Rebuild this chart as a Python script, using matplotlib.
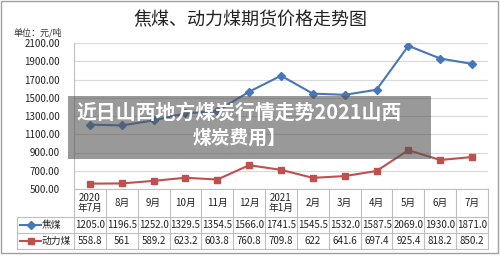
import matplotlib
matplotlib.use("Agg")
import matplotlib.pyplot as plt
import matplotlib.transforms as mtransforms
from matplotlib.lines import Line2D
from matplotlib.patches import Rectangle

plt.rcParams['font.family'] = ['Noto Sans CJK SC', 'DejaVu Sans']

categories = ["2020\n年7月", "8月", "9月", "10月", "11月", "12月", "2021\n年1月",
              "2月", "3月", "4月", "5月", "6月", "7月"]
coking = [1205.0, 1196.5, 1252.0, 1329.5, 1354.5, 1566.0, 1741.5, 1545.5,
          1532.0, 1587.5, 2069.0, 1930.0, 1871.0]
thermal = [558.8, 561, 589.2, 623.2, 603.8, 760.8, 709.8, 622, 641.6,
           697.4, 925.4, 818.2, 850.2]
coking_labels = ["1205.0", "1196.5", "1252.0", "1329.5", "1354.5", "1566.0", "1741.5",
                 "1545.5", "1532.0", "1587.5", "2069.0", "1930.0", "1871.0"]
thermal_labels = ["558.8", "561", "589.2", "623.2", "603.8", "760.8", "709.8",
                  "622", "641.6", "697.4", "925.4", "818.2", "850.2"]
series_names = ["焦煤", "动力煤"]
yticks = [500, 700, 900, 1100, 1300, 1500, 1700, 1900, 2100]

BLUE = '#4677B8'
RED = '#C0504D'
GRID = '#D9D9D9'
TBL = '#BFBFBF'

W, H = 500, 256
fig = plt.figure(figsize=(5.0, 2.56), dpi=100)
L, R, T, B = 74, 488, 43, 189
ax = fig.add_axes([L / W, 1 - B / H, (R - L) / W, (B - T) / H])

x = list(range(len(categories)))
ax.plot(x, coking, color=BLUE, lw=1.5, marker='D', ms=4.5, zorder=3)
ax.plot(x, thermal, color=RED, lw=1.5, marker='s', ms=5, zorder=3)

ax.set_xlim(-0.5, len(categories) - 0.5)
ax.set_ylim(500, 2100)
ax.set_yticks(yticks)
ax.set_yticklabels([f"{v:.2f}" for v in yticks], fontsize=7, color='#222222')
ax.tick_params(axis='y', length=0, pad=10)
ax.set_xticks([])
ax.grid(axis='y', color=GRID, lw=0.8)
ax.set_axisbelow(True)
for s in ['top', 'right']:
    ax.spines[s].set_visible(False)
ax.spines['left'].set_color(TBL)
ax.spines['bottom'].set_color(TBL)
ax.spines['left'].set_linewidth(0.8)
ax.spines['bottom'].set_linewidth(0.8)

tr = mtransforms.blended_transform_factory(ax.transData, fig.transFigure)
def fy(py):
    return 1 - py / H

x_left_col = -0.5 - (L - 17) / ((R - L) / len(categories))
y_hdr_top, y_r1, y_r2, y_bot = 189, 217, 233, 249

# table grid
for k in range(len(categories) + 1):
    xx = -0.5 + k
    fig.add_artist(Line2D([xx, xx], [fy(y_hdr_top), fy(y_bot)], transform=tr, color=TBL, lw=0.8))
fig.add_artist(Line2D([x_left_col, x_left_col], [fy(y_r1), fy(y_bot)], transform=tr, color=TBL, lw=0.8))
for yy in [y_r1, y_r2, y_bot]:
    fig.add_artist(Line2D([x_left_col, len(categories) - 0.5], [fy(yy), fy(yy)], transform=tr, color=TBL, lw=0.8))

# table texts
for i, c in enumerate(categories):
    fig.text(i, fy((y_hdr_top + y_r1) / 2), c, transform=tr, ha='center', va='center',
             fontsize=7, color='#222222', linespacing=1.1)
    fig.text(i, fy((y_r1 + y_r2) / 2), coking_labels[i], transform=tr, ha='center', va='center',
             fontsize=7, color='#222222')
    fig.text(i, fy((y_r2 + y_bot) / 2), thermal_labels[i], transform=tr, ha='center', va='center',
             fontsize=7, color='#222222')

# legend keys in table
for yy, col, mk, name in [((y_r1 + y_r2) / 2, BLUE, 'D', series_names[0]),
                          ((y_r2 + y_bot) / 2, RED, 's', series_names[1])]:
    fig.add_artist(Line2D([20 / W, 41 / W], [fy(yy), fy(yy)], color=col, lw=1.5))
    fig.add_artist(Line2D([30.5 / W], [fy(yy)], color=col, marker=mk, ms=4.5 if mk == 'D' else 5, lw=0))
    fig.text(42 / W, fy(yy), name, ha='left', va='center', fontsize=7, color='#222222')

# titles
fig.text(0.5, fy(20), "焦煤、动力煤期货价格走势图", ha='center', va='center', fontsize=13, color='#222222')
fig.text(13 / W, fy(33), "单位：元/吨", ha='left', va='center', fontsize=6.5, color='#333333')

# overlay
fig.add_artist(Rectangle((68 / W, fy(159)), (431 - 68) / W, (159 - 96) / H,
                         transform=fig.transFigure, facecolor='#555555', alpha=0.6,
                         edgecolor='none', zorder=10))
fig.text(77 / W, fy(112), "近日山西地方煤炭行情走势2021山西", ha='left', va='center',
         fontsize=14.3, fontweight='bold', color='white', zorder=11)
fig.text(193 / W, fy(138), "煤炭费用】", ha='left', va='center',
         fontsize=13.5, fontweight='bold', color='white', zorder=11)

# outer border
fig.add_artist(Rectangle((1 / W, fy(253)), 497 / W, 252 / H, transform=fig.transFigure,
                         facecolor='none', edgecolor='#A0A0A0', lw=1))

fig.savefig("out.png", dpi=100)
